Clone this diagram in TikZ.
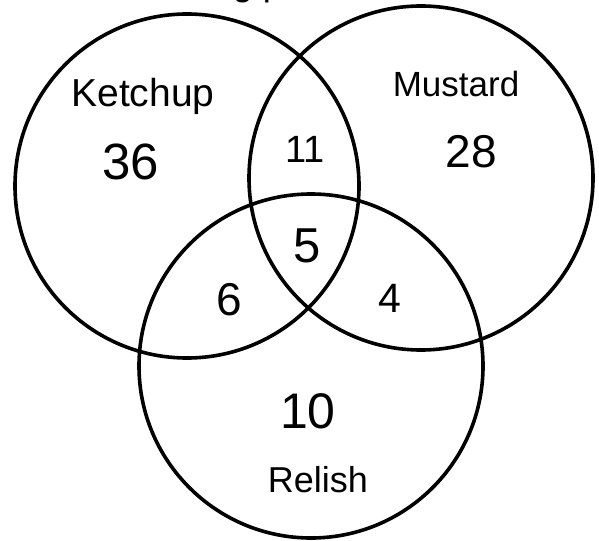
\documentclass[tikz,border=0pt]{standalone}
\usepackage{fontspec}
\setmainfont{Liberation Sans}
\begin{document}
\begin{tikzpicture}[x=1bp,y=-1bp,
  setcircle/.style={draw=black,line width=3.6bp,circle,minimum size=344bp,inner sep=0pt},
  lbl/.style={anchor=base,inner sep=0pt,text=black}]
\useasboundingbox (0,0) rectangle (599,541);
\fill[white] (0,0) rectangle (599,541);
\node[setcircle] (ketchup) at (187,186) {};
\node[setcircle] (mustard) at (421,178) {};
\node[setcircle] (relish) at (311,366) {};
\node[lbl,font=\fontsize{36bp}{40bp}\selectfont] (title) at (258,-4) {g p};
\node[lbl,font=\fontsize{39bp}{44bp}\selectfont] (tk) at (143,107) {Ketchup};
\node[lbl,font=\fontsize{35bp}{40bp}\selectfont] (tm) at (456,97) {Mustard};
\node[lbl,font=\fontsize{36bp}{40bp}\selectfont] (tr) at (318,492) {Relish};
\node[lbl,font=\fontsize{51bp}{56bp}\selectfont] (n36) at (131,180) {36};
\node[lbl,font=\fontsize{46bp}{50bp}\selectfont] (n28) at (471,168) {28};
\node[lbl,font=\fontsize{38bp}{42bp}\selectfont] (n11) at (305,163) {11};
\node[lbl,font=\fontsize{49bp}{54bp}\selectfont] (n5) at (307,262) {5};
\node[lbl,font=\fontsize{46bp}{50bp}\selectfont] (n6) at (229,315) {6};
\node[lbl,font=\fontsize{41bp}{45bp}\selectfont] (n4) at (390,312) {4};
\node[lbl,font=\fontsize{50bp}{55bp}\selectfont] (n10) at (308,428) {10};
\end{tikzpicture}
\end{document}
